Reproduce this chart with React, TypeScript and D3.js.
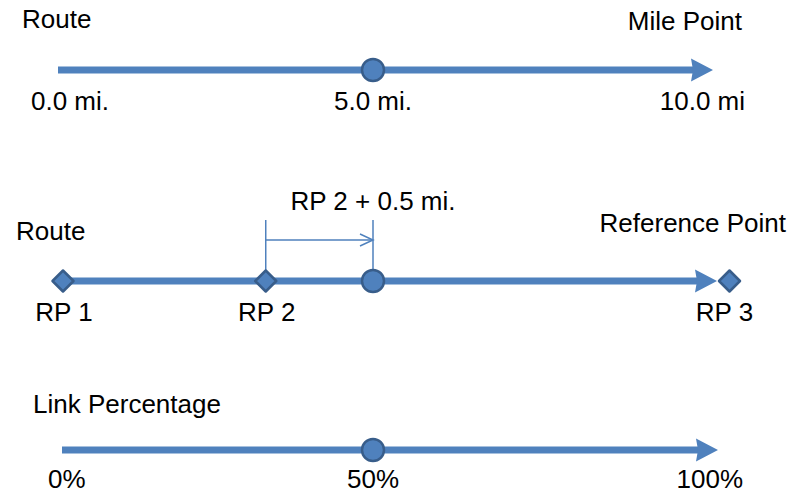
import React from "react";
import * as d3 from "d3";

// ---- data ----
const mileTicks = [0, 5, 10];
const mileLabels = ["0.0 mi.", "5.0 mi.", "10.0 mi"];
const mileMarker = 5;

const refPointNames = ["RP 1", "RP 2", "RP 3"];
const refPointPos = [0, 32.7, 107.5]; // % of link
const refTarget = 50; // % of link (RP 2 + 0.5 mi.)
const refOffsetLabel = "RP 2 + 0.5 mi.";

const pctTicks = [0, 50, 100];
const pctLabels = ["0%", "50%", "100%"];
const pctMarker = 50;

const titles = ["Route", "Mile Point", "Route", "Reference Point", "Link Percentage"];

const W = 788;
const H = 494;
const FILL = "#4F81BD";
const STROKE = "#385D8A";
const FONT = "'Liberation Sans', Arial, sans-serif";
const FS = 26;

const x = d3.scaleLinear().domain([0, 100]).range([63, 683]);
const xm = d3.scaleLinear().domain([0, 10]).range([63, 683]);

function Arrow({ x0, tip, y }: { x0: number; tip: number; y: number }) {
  const headLen = 22;
  const half = 11.5;
  const base = tip - headLen;
  const pts: [number, number][] = [
    [tip, y],
    [base, y - half],
    [base + 2, y],
    [base, y + half],
  ];
  return (
    <g>
      <line x1={x0} x2={base + 4} y1={y} y2={y} stroke={FILL} strokeWidth={7} />
      <path d={d3.line()(pts)! + "Z"} fill={FILL} />
    </g>
  );
}

function Dot({ cx, cy }: { cx: number; cy: number }) {
  return <circle cx={cx} cy={cy} r={11} fill={FILL} stroke={STROKE} strokeWidth={2.5} />;
}

function Diamond({ cx, cy }: { cx: number; cy: number }) {
  const s = 10.5;
  const d = d3.line()([
    [cx, cy - s],
    [cx + s, cy],
    [cx, cy + s],
    [cx - s, cy],
  ])! + "Z";
  return <path d={d} fill={FILL} stroke={STROKE} strokeWidth={2.5} strokeLinejoin="round" />;
}

export default function App() {
  const y1 = 70;
  const y2 = 281;
  const y3 = 450;
  const anchors = ["start", "middle", "end"] as const;
  const row1LabelX = [31, xm(mileTicks[1]), 745];
  const row3LabelX = [48, x(pctTicks[1]), 743];
  const txt = { fontFamily: FONT, fontSize: FS, fill: "#000" };
  const rp2 = x(refPointPos[1]);
  const tgt = x(refTarget);
  const yb = 240;
  return (
    <svg width={W} height={H} style={{ position: "absolute", left: 0, top: 0, background: "#fff" }}>
      {/* Row 1: Mile Point */}
      <text x={22} y={28} {...txt}>{titles[0]}</text>
      <text x={742} y={30} textAnchor="end" {...txt}>{titles[1]}</text>
      <Arrow x0={xm(0) - 5} tip={713} y={y1} />
      <Dot cx={xm(mileMarker)} cy={y1} />
      {mileLabels.map((l, i) => (
        <text key={l} x={row1LabelX[i]} y={110} textAnchor={anchors[i]} {...txt}>{l}</text>
      ))}

      {/* Row 2: Reference Point */}
      <text x={16} y={240} {...txt}>{titles[2]}</text>
      <text x={786} y={232} textAnchor="end" {...txt}>{titles[3]}</text>
      <text x={tgt} y={210} textAnchor="middle" {...txt}>{refOffsetLabel}</text>
      <line x1={rp2} x2={rp2} y1={220} y2={y2} stroke={FILL} strokeWidth={1.5} />
      <line x1={tgt} x2={tgt} y1={220} y2={y2} stroke={FILL} strokeWidth={1.5} />
      <line x1={rp2} x2={tgt} y1={yb} y2={yb} stroke={FILL} strokeWidth={1.5} />
      <path
        d={`M${tgt - 13},${yb - 6}L${tgt},${yb}L${tgt - 13},${yb + 6}`}
        fill="none"
        stroke={FILL}
        strokeWidth={1.5}
      />
      <Arrow x0={x(refPointPos[0])} tip={717} y={y2} />
      <Dot cx={tgt} cy={y2} />
      {refPointPos.map((p, i) => (
        <Diamond key={i} cx={x(p)} cy={y2} />
      ))}
      {refPointNames.map((n, i) => (
        <text key={n} x={x(refPointPos[i]) + (i === 2 ? -5 : 1)} y={321} textAnchor="middle" {...txt}>{n}</text>
      ))}

      {/* Row 3: Link Percentage */}
      <text x={33} y={413} {...txt}>{titles[4]}</text>
      <Arrow x0={x(0) - 1} tip={718} y={y3} />
      <Dot cx={x(pctMarker)} cy={y3} />
      {pctLabels.map((l, i) => (
        <text key={l} x={row3LabelX[i]} y={488} textAnchor={anchors[i]} {...txt}>{l}</text>
      ))}
    </svg>
  );
}
